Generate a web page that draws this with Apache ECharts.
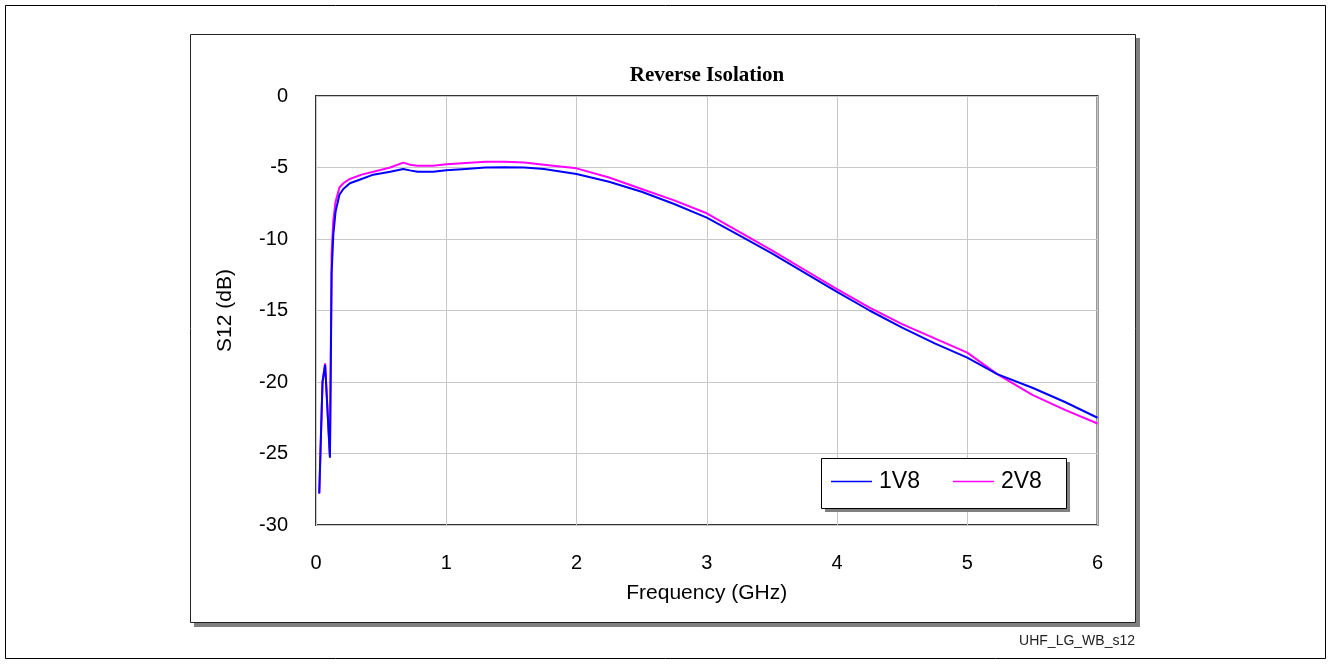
<!DOCTYPE html>
<html>
<head>
<meta charset="utf-8">
<title>Reverse Isolation</title>
<script src="https://cdn.jsdelivr.net/npm/echarts@6/dist/echarts.min.js"></script>
<style>
  html, body { margin: 0; padding: 0; background: #fff; }
  #chart { width: 1330px; height: 664px; }
</style>
</head>
<body>
<div id="chart"></div>
<script>
// frequency points (GHz), shared by both curves
let freqGHz = [0.025, 0.05, 0.07, 0.107, 0.12, 0.133, 0.15, 0.18, 0.21, 0.26, 0.35, 0.44, 0.57, 0.67, 0.72, 0.78, 0.9, 1.0,
  1.15, 1.3, 1.45, 1.6, 1.75, 2.0, 2.25, 2.5, 2.75, 3.0, 3.25, 3.5, 3.75, 4.0, 4.25, 4.5, 4.75, 5.0, 5.23, 5.5, 5.75, 6.0]

// S12 in dB
let s12_1V8 = [-27.8, -20.0, -18.8, -25.3, -12.4, -9.7, -8.1, -6.9, -6.5, -6.1, -5.8, -5.5, -5.3, -5.1, -5.2, -5.3, -5.3, -5.2,
  -5.1, -5.0, -4.98, -5.0, -5.1, -5.45, -6.0, -6.7, -7.55, -8.5, -9.75, -11.0, -12.35, -13.7, -15.0, -16.2, -17.3, -18.3, -19.45, -20.4, -21.4, -22.5]
let s12_2V8 = [-27.8, -20.0, -18.7, -25.2, -11.0, -8.7, -7.4, -6.4, -6.1, -5.8, -5.5, -5.3, -5.0, -4.66, -4.8, -4.87, -4.87, -4.78,
  -4.68, -4.6, -4.6, -4.65, -4.8, -5.06, -5.7, -6.5, -7.3, -8.2, -9.5, -10.8, -12.15, -13.5, -14.8, -15.95, -16.95, -17.95, -19.45, -20.9, -21.95, -22.9]

let seriesNames = ["1V8", "2V8"]
let seriesColors = ["#0000ff", "#ff00ff"]

function pairs(xs, ys) {
  let out = []
  for (let i = 0; i < xs.length; i++) {
    out[i] = [xs[i], ys[i]]
  }
  return out
}

let font = "'Liberation Sans', Arial, sans-serif"
let myChart = echarts.init(document.getElementById("chart"))
let option = {
  backgroundColor: "#ffffff",
  animation: false,
  title: {
    text: "Reverse Isolation",
    left: 702,
    textAlign: "center",
    top: 60,
    textStyle: {
      fontFamily: "'Liberation Serif', 'Times New Roman', serif",
      fontWeight: "bold",
      fontSize: 21,
      color: "#000"
    }
  },
  // frames drawn behind the chart
  graphic: {
    elements: [
      { type: "rect", z: -30, shape: { x: 5.5, y: 5.5, width: 1320, height: 653 },
        style: { fill: "#fff", stroke: "#000", lineWidth: 1 } },
      { type: "rect", z: -25, shape: { x: 194, y: 38, width: 946, height: 589 },
        style: { fill: "#808080" } },
      { type: "rect", z: -20, shape: { x: 190.5, y: 34.5, width: 945, height: 588 },
        style: { fill: "#fff", stroke: "#222", lineWidth: 1 } },
      { type: "rect", z: 10, shape: { x: 825, y: 462, width: 245, height: 50 },
        style: { fill: "#808080" } },
      { type: "rect", z: 11, shape: { x: 821.5, y: 458.5, width: 245, height: 50 },
        style: { fill: "#fff", stroke: "#000", lineWidth: 1 } },
      { type: "text", z: 5, right: 195, top: 634,
        style: { text: "UHF_LG_WB_s12", font: "14px " + font, fill: "#222" } }
    ]
  },
  legend: {
    z: 12,
    left: 821,
    top: 458,
    padding: [12, 18, 12, 10],
    icon: "rect",
    itemWidth: 41,
    itemHeight: 1.5,
    itemGap: 33,
    data: seriesNames,
    textStyle: { fontFamily: font, fontSize: 23, color: "#000", padding: [0, 0, 0, 2] }
  },
  grid: {
    left: 316,
    top: 96,
    right: 232.5,
    bottom: 139,
    show: true,
    borderColor: "#333",
    borderWidth: 2
  },
  xAxis: {
    type: "value",
    min: 0,
    max: 6,
    interval: 1,
    name: "Frequency (GHz)",
    nameLocation: "middle",
    nameGap: 58,
    nameTextStyle: { fontFamily: font, fontSize: 21, color: "#000" },
    axisLine: { show: false },
    axisTick: { show: false },
    axisLabel: { margin: 28, fontFamily: font, fontSize: 20, color: "#000" },
    splitLine: { show: true, lineStyle: { color: "#c8c8c8", width: 1 } }
  },
  yAxis: {
    type: "value",
    min: -30,
    max: 0,
    interval: 5,
    name: "S12 (dB)",
    nameLocation: "middle",
    nameGap: 80,
    nameTextStyle: { fontFamily: font, fontSize: 21, color: "#000" },
    axisLine: { show: false },
    axisTick: { show: false },
    axisLabel: { margin: 28, fontFamily: font, fontSize: 20, color: "#000" },
    splitLine: { show: true, lineStyle: { color: "#c8c8c8", width: 1 } }
  },
  series: [
    {
      name: seriesNames[0],
      type: "line",
      z: 4,
      symbol: "none",
      color: seriesColors[0],
      lineStyle: { width: 2, color: seriesColors[0] },
      data: pairs(freqGHz, s12_1V8)
    },
    {
      name: seriesNames[1],
      type: "line",
      z: 3,
      symbol: "none",
      color: seriesColors[1],
      lineStyle: { width: 2, color: seriesColors[1] },
      data: pairs(freqGHz, s12_2V8)
    }
  ]
}
myChart.setOption(option)
</script>
</body>
</html>
